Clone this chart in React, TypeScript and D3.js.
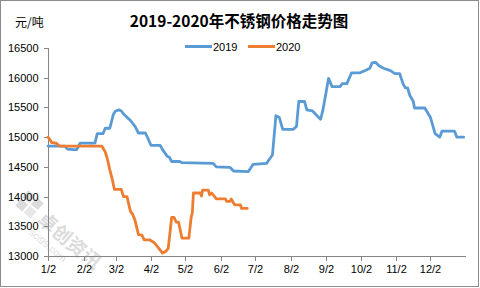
import React from "react";
import * as d3 from "d3";

const title = "2019-2020年不锈钢价格走势图";
const unitLabel = "元/吨";
const seriesNames = ["2019", "2020"];
const seriesColors = ["#5B9BD5", "#ED7D31"];

const yTicks = [13000, 13500, 14000, 14500, 15000, 15500, 16000, 16500];
const xTickDates = ["01-02", "02-02", "03-02", "04-02", "05-02", "06-02", "07-02", "08-02", "09-02", "10-02", "11-02", "12-02"];
const xTickLabels = ["1/2", "2/2", "3/2", "4/2", "5/2", "6/2", "7/2", "8/2", "9/2", "10/2", "11/2", "12/2"];

const dates2019 = [
  "01-02", "01-17", "01-19", "01-24", "01-27", "01-30", "02-12", "02-14", "02-19", "02-21",
  "02-25", "02-28", "03-02", "03-05", "03-07", "03-09", "03-15", "03-19", "03-22", "03-28",
  "03-30", "04-02", "04-10", "04-12", "04-16", "04-18", "04-20", "04-27", "04-29", "05-26",
  "05-29", "06-10", "06-13", "06-26", "06-27", "06-30", "07-12", "07-14", "07-17", "07-20",
  "07-23", "07-26", "08-04", "08-07", "08-09", "08-14", "08-16", "08-21", "08-26", "08-28",
  "08-30", "09-04", "09-07", "09-11", "09-14", "09-16", "09-20", "09-24", "10-01", "10-07",
  "10-10", "10-12", "10-15", "10-18", "10-22", "10-28", "11-01", "11-05", "11-08", "11-10",
  "11-12", "11-14", "11-17", "11-18", "11-27", "12-02", "12-06", "12-10", "12-12", "12-23",
  "12-25", "12-31",
];
const values2019 = [
  14850, 14850, 14800, 14790, 14790, 14900, 14900, 15060, 15060, 15150,
  15150, 15380, 15440, 15460, 15440, 15390, 15280, 15180, 15070, 15070,
  14990, 14860, 14860, 14790, 14680, 14660, 14590, 14590, 14570, 14560,
  14500, 14490, 14430, 14420, 14450, 14540, 14560, 14620, 14700, 15360,
  15330, 15130, 15130, 15180, 15600, 15600, 15460, 15440, 15340, 15300,
  15450, 15990, 15850, 15850, 15850, 15900, 15900, 16080, 16080, 16130,
  16160, 16250, 16260, 16200, 16160, 16120, 16070, 16070, 15900, 15830,
  15830, 15700, 15600, 15490, 15490, 15330, 15060, 15000, 15100, 15100,
  15000, 15000,
];

const dates2020 = [
  "01-02", "01-04", "01-05", "01-09", "01-12", "02-18", "02-21", "02-23", "02-25", "02-27",
  "03-01", "03-07", "03-09", "03-12", "03-15", "03-17", "03-19", "03-22", "03-25", "03-27",
  "04-01", "04-05", "04-10", "04-12", "04-15", "04-17", "04-20", "04-22", "04-24", "04-26",
  "04-29", "05-05", "05-07", "05-08", "05-09", "05-15", "05-16", "05-17", "05-22", "05-23",
  "05-25", "05-29", "06-06", "06-07", "06-10", "06-11", "06-14", "06-19", "06-20", "06-25",
];
const values2020 = [
  15000, 14950, 14910, 14900, 14850, 14850, 14750, 14620, 14450, 14300,
  14120, 14120, 14000, 14000, 13750, 13700, 13600, 13360, 13350, 13270,
  13270, 13220, 13100, 13050, 13080, 13130, 13650, 13650, 13570, 13570,
  13300, 13300, 13650, 13720, 14060, 14060, 14010, 14110, 14110, 14030,
  14060, 13960, 13960, 13920, 13920, 13960, 13860, 13860, 13800, 13800,
];

const parse = d3.timeParse("%Y-%m-%d");
const toDate = (md: string) => parse("2019-" + md) as Date;

export default function App() {
  const W = 480;
  const H = 288;
  const left = 48;
  const right = 466;
  const top = 48;
  const bottom = 256;

  const x = d3.scaleTime().domain([toDate("01-02"), parse("2020-01-02") as Date]).range([left, right]);
  const y = d3.scaleLinear().domain([13000, 16500]).range([bottom, top]);

  const line = d3
    .line<[string, number]>()
    .x((d) => x(toDate(d[0])))
    .y((d) => y(d[1]));

  const s2019: [string, number][] = dates2019.map((d, i) => [d, values2019[i]]);
  const s2020: [string, number][] = dates2020.map((d, i) => [d, values2020[i]]);
  const series = [s2019, s2020];

  const axisColor = "#868686";
  const sans = "'Liberation Sans', Arial, sans-serif";
  const cjk = "'Noto Sans CJK SC', sans-serif";

  const legendX = [185, 248];

  return (
    <svg width={W} height={H} style={{ position: "absolute", left: 0, top: 0 }}>
      <rect x={0} y={0} width={W} height={H} fill="#fff" />
      <rect x={0.5} y={0.5} width={W - 2} height={H - 2} fill="none" stroke="#8c8c8c" strokeWidth={1} />

      {/* watermark */}
      <g opacity={0.35} transform="translate(30,210) rotate(40)">
        <rect x={-14} y={-14} width={9} height={9} fill="#9a9a9a" />
        <rect x={-3} y={-14} width={9} height={9} fill="#9a9a9a" />
        <rect x={-14} y={-3} width={9} height={9} fill="#9a9a9a" />
        <rect x={-3} y={-3} width={9} height={9} fill="#bdbdbd" />
        <text x={12} y={5} fontFamily={cjk} fontSize={19} fontWeight="bold" fill="#9a9a9a">卓创资讯</text>
        <text x={14} y={19} fontFamily={sans} fontSize={10} fill="#9a9a9a">sci99.com</text>
      </g>

      <text x={239} y={26.5} textAnchor="middle" fontFamily={cjk} fontWeight="bold" fontSize={15.5} fill="#000">
        {title}
      </text>
      <text x={15} y={27} fontFamily={cjk} fontSize={12} fill="#000">
        {unitLabel}
      </text>

      {/* legend */}
      {seriesNames.map((name, i) => (
        <g key={name}>
          <line x1={legendX[i]} x2={legendX[i] + 27} y1={46.5} y2={46.5} stroke={seriesColors[i]} strokeWidth={3} />
          <text x={legendX[i] + 28} y={50.5} fontFamily={sans} fontSize={11} fill="#000">
            {name}
          </text>
        </g>
      ))}

      {/* y axis */}
      <line x1={left + 0.5} x2={left + 0.5} y1={top} y2={bottom} stroke={axisColor} />
      {yTicks.map((t) => (
        <g key={t}>
          <line x1={left - 4} x2={left + 0.5} y1={Math.round(y(t)) + 0.5} y2={Math.round(y(t)) + 0.5} stroke={axisColor} />
          <text x={38.5} y={y(t) + 4} textAnchor="end" fontFamily={sans} fontSize={11} fill="#000">
            {t}
          </text>
        </g>
      ))}

      {/* x axis */}
      <line x1={left} x2={right} y1={bottom + 0.5} y2={bottom + 0.5} stroke={axisColor} />
      {xTickDates.map((d, i) => {
        const px = Math.round(x(toDate(d))) + 0.5;
        return (
          <g key={d}>
            <line x1={px} x2={px} y1={bottom} y2={bottom + 5} stroke={axisColor} />
            <text x={px} y={273} textAnchor="middle" fontFamily={sans} fontSize={11} fill="#000">
              {xTickLabels[i]}
            </text>
          </g>
        );
      })}

      {/* lines */}
      {series.map((s, i) => (
        <path
          key={i}
          d={line(s) || ""}
          fill="none"
          stroke={seriesColors[i]}
          strokeWidth={2.8}
          strokeLinejoin="round"
          strokeLinecap="round"
        />
      ))}
    </svg>
  );
}
